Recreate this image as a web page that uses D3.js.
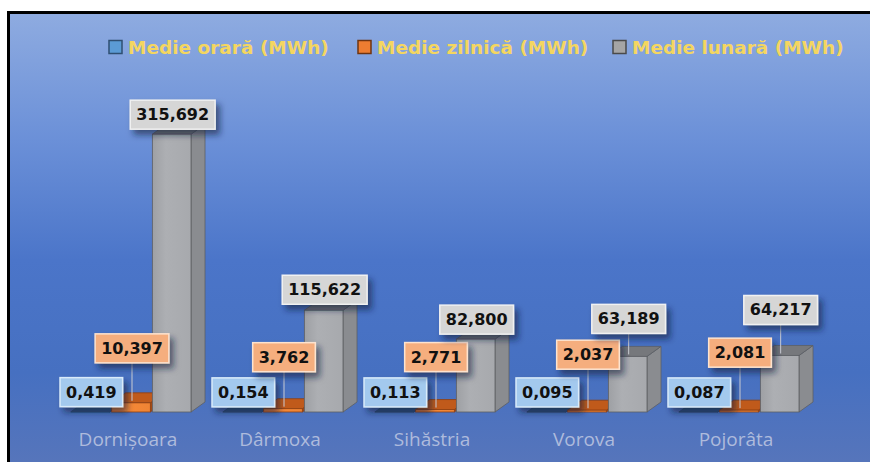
<!DOCTYPE html>
<html>
<head>
<meta charset="utf-8">
<script src="https://cdn.jsdelivr.net/npm/d3@7"></script>
<style>
  html, body { margin: 0; padding: 0; background: #ffffff; }
  svg { display: block; }
</style>
</head>
<body>
<svg id="chart" width="870" height="462"></svg>
<script>
// Consumption averages per location
const categories = ["Dornișoara", "Dârmoxa", "Sihăstria", "Vorova", "Pojorâta"];
const seriesNames = ["Medie orară (MWh)", "Medie zilnică (MWh)", "Medie lunară (MWh)"];
const hourly  = [0.419, 0.154, 0.113, 0.095, 0.087];
const daily   = [10.397, 3.762, 2.771, 2.037, 2.081];
const monthly = [315.692, 115.622, 82.800, 63.189, 64.217];

// How far each data label sits above its column (px), per series
const labelLift = [
  [5, 5, 5, 5, 5],
  [40, 37, 38, 41, 43],
  [5, 6, 5, 23, 31]
];

const seriesValues = [hourly, daily, monthly];

const W = 870, H = 462;
const svg = d3.select("#chart");
const defs = svg.append("defs");

// Background panel gradient
const bg = defs.append("linearGradient").attr("id", "bgGrad")
  .attr("x1", 0).attr("y1", 0).attr("x2", 0).attr("y2", 1);
[[0, "#8eabe0"], [0.28, "#6b90d8"], [0.55, "#4b75c9"], [0.8, "#4670c1"], [1, "#5675bb"]]
  .forEach(([o, c]) => bg.append("stop").attr("offset", o).attr("stop-color", c));

// Drop shadow for label boxes
const shadow = defs.append("filter").attr("id", "lblShadow")
  .attr("x", "-30%").attr("y", "-30%").attr("width", "170%").attr("height", "190%");
shadow.append("feDropShadow").attr("dx", 4).attr("dy", 5).attr("stdDeviation", 3)
  .attr("flood-color", "#0b1a3a").attr("flood-opacity", 0.6);

// Frame: white margin, black top/left rule, gradient panel
svg.append("rect").attr("width", W).attr("height", H).attr("fill", "#ffffff");
svg.append("rect").attr("x", 7).attr("y", 11).attr("width", W - 7).attr("height", H - 11).attr("fill", "#000000");
svg.append("rect").attr("x", 10).attr("y", 14).attr("width", W - 10).attr("height", H - 14).attr("fill", "url(#bgGrad)");

// Scales
const baseY = 412;
const y = d3.scaleLinear().domain([0, 350]).range([baseY, 104]);
const x0 = d3.scaleBand().domain(categories).range([55, 815]).padding(0);
const x1 = d3.scaleBand().domain(d3.range(3)).range([16, 136]).paddingInner(0.05);

const depthX = 14, depthY = -10;

const palette = [
  { front: "#4a86c5", side: "#2f5d8e", top: "#2c5784", stroke: "#274c74",
    lblFill: "#a3c9ee", lblStroke: "#d9ebfa", legFill: "#5b9bd5", legStroke: "#2f4f72" },
  { front: "#ee8435", side: "#a64a12", top: "#c05a1b", stroke: "#8e3f10",
    lblFill: "#f5ae7e", lblStroke: "#fde3cf", legFill: "#ed7d31", legStroke: "#6f3410" },
  { front: "#a7a9ad", side: "#8a8c90", top: "#76787c", stroke: "#5d5f63",
    lblFill: "#d6d6d6", lblStroke: "#f1f1f1", legFill: "#a5a5a5", legStroke: "#4a4a4a" }
];

// Front-face gradients for a little shading
palette.forEach((p, i) => {
  const g = defs.append("linearGradient").attr("id", "front" + i)
    .attr("x1", 0).attr("y1", 0).attr("x2", 1).attr("y2", 0);
  g.append("stop").attr("offset", 0).attr("stop-color", d3.color(p.front).darker(0.15));
  g.append("stop").attr("offset", 0.35).attr("stop-color", d3.color(p.front).brighter(0.1));
  g.append("stop").attr("offset", 1).attr("stop-color", p.front);
});

// Flatten into one record per column
const cols = [];
categories.forEach((c, ci) => {
  seriesValues.forEach((vals, si) => {
    cols.push({ cat: c, ci, si, v: vals[ci] });
  });
});

const colX = d => x0(d.cat) + x1(d.si);
const bw = x1.bandwidth();

// 3D columns
const bars = svg.append("g").attr("class", "bars");
cols.forEach(d => {
  const p = palette[d.si];
  const xl = colX(d), xr = xl + bw, yt = y(d.v);
  const g = bars.append("g");
  // side face
  g.append("path")
    .attr("d", `M${xr},${yt}L${xr + depthX},${yt + depthY}L${xr + depthX},${baseY + depthY}L${xr},${baseY}Z`)
    .attr("fill", p.side).attr("stroke", p.stroke).attr("stroke-width", 0.8);
  // top face
  g.append("path")
    .attr("d", `M${xl},${yt}L${xl + depthX},${yt + depthY}L${xr + depthX},${yt + depthY}L${xr},${yt}Z`)
    .attr("fill", p.top).attr("stroke", p.stroke).attr("stroke-width", 0.8);
  // front face
  g.append("rect")
    .attr("x", xl).attr("y", yt).attr("width", bw).attr("height", baseY - yt)
    .attr("fill", `url(#front${d.si})`).attr("stroke", p.stroke).attr("stroke-width", 0.8);
});

// Category axis labels
svg.append("g").selectAll("text").data(categories).join("text")
  .attr("x", c => x0(c) + x0.bandwidth() / 2 - 3)
  .attr("y", 446)
  .attr("text-anchor", "middle")
  .attr("font-family", "'Open Sans', sans-serif")
  .attr("font-size", 19)
  .attr("fill", "#aebbdc")
  .text(c => c);

// Data labels (Romanian decimal comma)
const ro = d3.formatLocale({ decimal: ",", thousands: ".", grouping: [3], currency: ["", " lei"] });
const fmt = ro.format(".3f");

const labels = svg.append("g").attr("class", "labels");
const lblH = 29, padX = 6;
const order = [...cols].sort((a, b) => a.si - b.si || a.ci - b.ci);
order.forEach(d => {
  const p = palette[d.si];
  const cx = colX(d) + bw / 2 + 1;
  const yt = y(d.v);
  const bottom = yt - labelLift[d.si][d.ci];
  const g = labels.append("g");
  if (labelLift[d.si][d.ci] > 12) {
    g.append("line")
      .attr("x1", cx).attr("x2", cx)
      .attr("y1", bottom).attr("y2", yt - 2)
      .attr("stroke", "#c9ccd3").attr("stroke-width", 1);
  }
  const t = g.append("text")
    .attr("x", cx).attr("y", bottom - lblH / 2)
    .attr("text-anchor", "middle").attr("dominant-baseline", "central")
    .attr("font-family", "'DejaVu Sans', Verdana, sans-serif")
    .attr("font-weight", "bold").attr("font-size", 16)
    .attr("fill", "#111111")
    .text(fmt(d.v));
  const tw = t.node().getComputedTextLength();
  g.insert("rect", "text")
    .attr("x", cx - tw / 2 - padX).attr("y", bottom - lblH)
    .attr("width", tw + padX * 2).attr("height", lblH)
    .attr("fill", p.lblFill).attr("stroke", p.lblStroke).attr("stroke-width", 1.5)
    .attr("filter", "url(#lblShadow)");
});

// Legend
const legendX = [108, 357, 612];
const legend = svg.append("g").attr("class", "legend");
seriesNames.forEach((name, i) => {
  const p = palette[i];
  const g = legend.append("g").attr("transform", `translate(${legendX[i]},0)`);
  g.append("rect").attr("x", 1).attr("y", 40.5).attr("width", 13).attr("height", 13)
    .attr("fill", p.legFill).attr("stroke", p.legStroke).attr("stroke-width", 1.5);
  g.append("text").attr("x", 20).attr("y", 54)
    .attr("font-family", "'DejaVu Sans', Verdana, sans-serif")
    .attr("font-weight", "bold").attr("font-size", 18.5)
    .attr("fill", "#f4d660")
    .text(name);
});
</script>
</body>
</html>
